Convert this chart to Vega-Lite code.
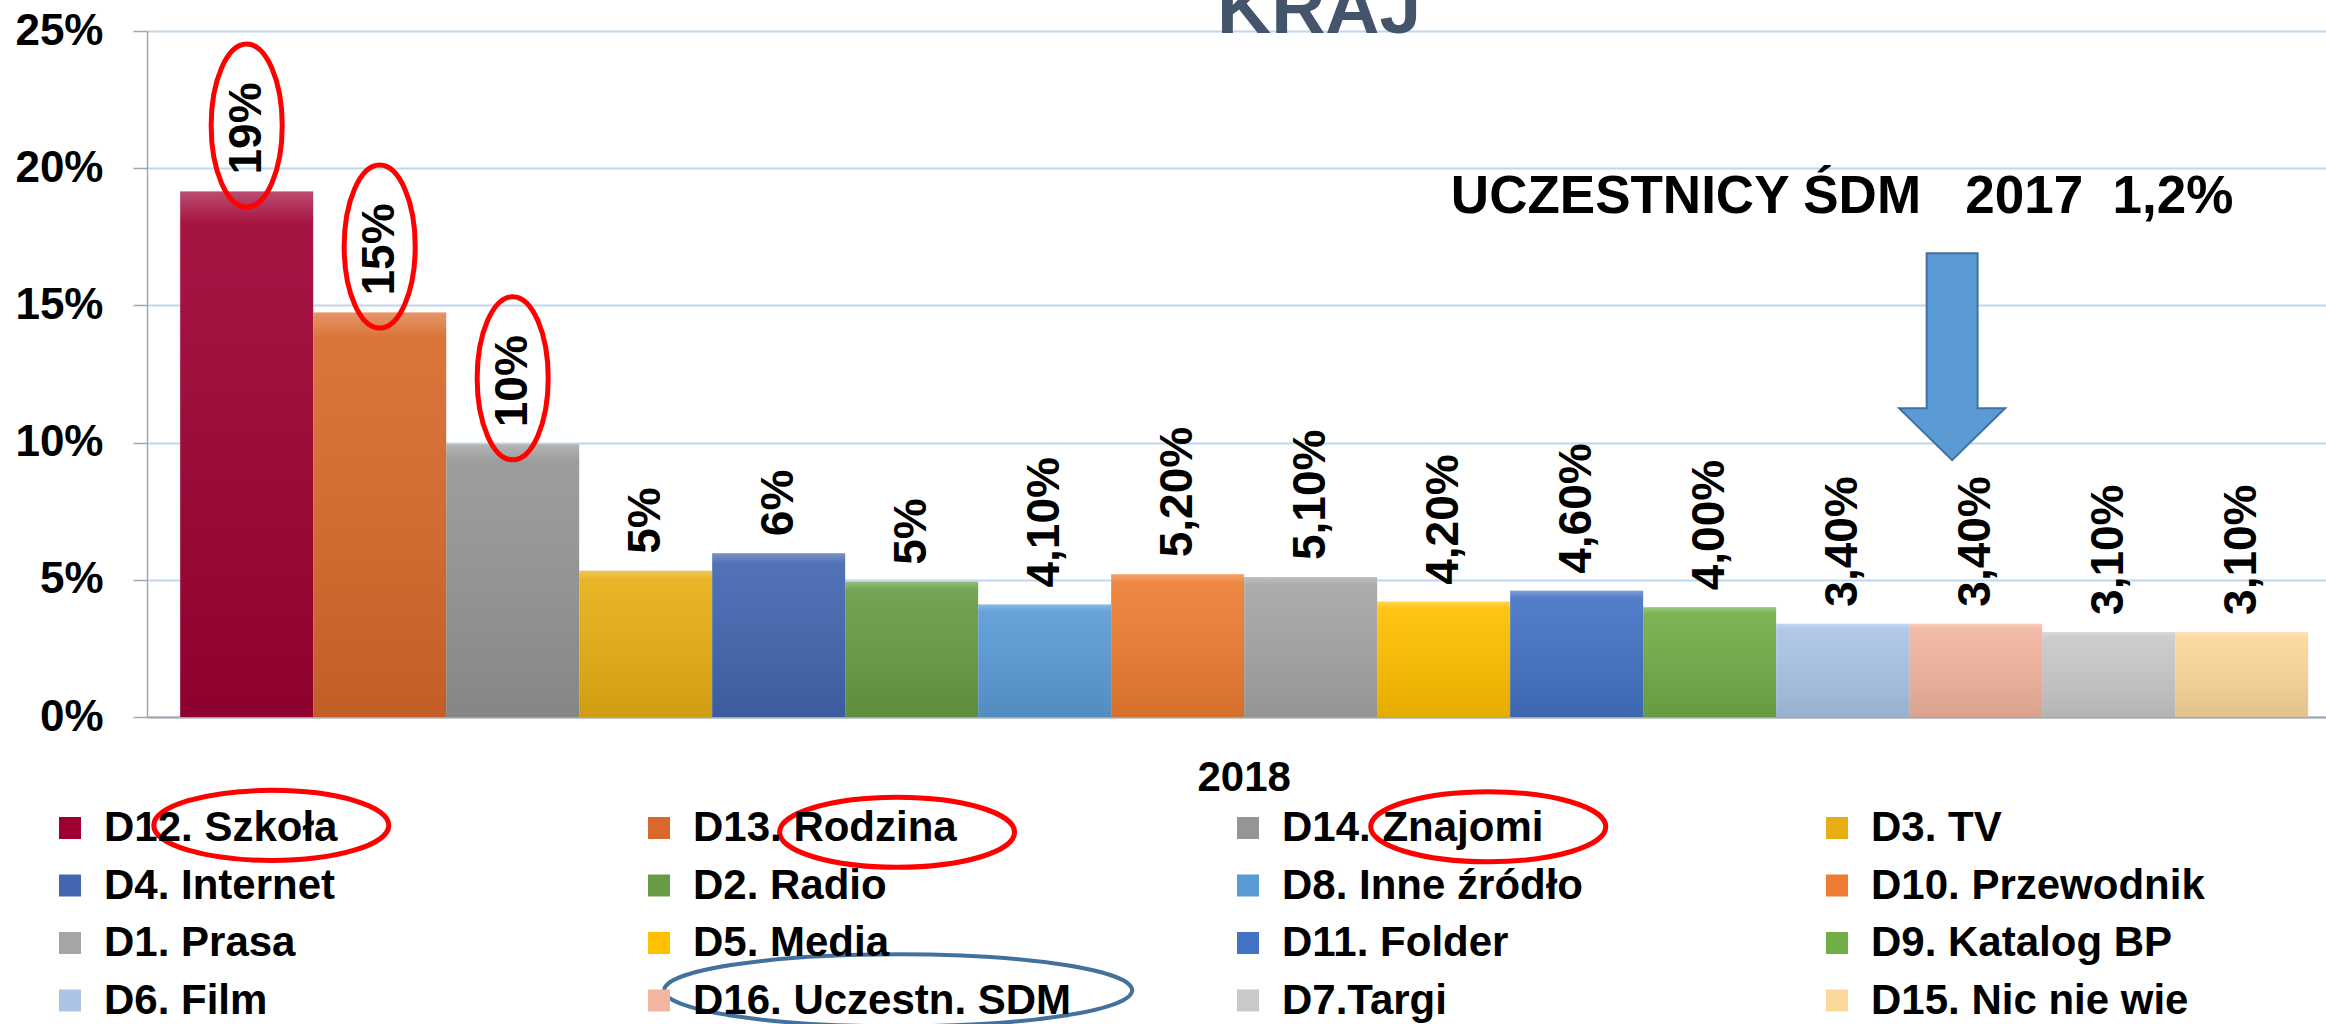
{
  "$schema": "https://vega.github.io/schema/vega-lite/v6.json",
  "width": 2179,
  "height": 686,
  "autosize": {"type": "none"},
  "padding": {"left": 147, "top": 31, "right": 0, "bottom": 307},
  "background": "white",
  "data": {"values": [
    {"year": "2018", "series": "D12. Szkoła", "value": 0.1915, "label": "19%", "highlight": true},
    {"year": "2018", "series": "D13. Rodzina", "value": 0.1474, "label": "15%", "highlight": true},
    {"year": "2018", "series": "D14. Znajomi", "value": 0.0994, "label": "10%", "highlight": true},
    {"year": "2018", "series": "D3. TV", "value": 0.0533, "label": "5%", "highlight": false},
    {"year": "2018", "series": "D4. Internet", "value": 0.0597, "label": "6%", "highlight": false},
    {"year": "2018", "series": "D2. Radio", "value": 0.0493, "label": "5%", "highlight": false},
    {"year": "2018", "series": "D8. Inne źródło", "value": 0.041, "label": "4,10%", "highlight": false},
    {"year": "2018", "series": "D10. Przewodnik", "value": 0.052, "label": "5,20%", "highlight": false},
    {"year": "2018", "series": "D1. Prasa", "value": 0.051, "label": "5,10%", "highlight": false},
    {"year": "2018", "series": "D5. Media", "value": 0.042, "label": "4,20%", "highlight": false},
    {"year": "2018", "series": "D11. Folder", "value": 0.046, "label": "4,60%", "highlight": false},
    {"year": "2018", "series": "D9. Katalog BP", "value": 0.040, "label": "4,00%", "highlight": false},
    {"year": "2018", "series": "D6. Film", "value": 0.034, "label": "3,40%", "highlight": false},
    {"year": "2018", "series": "D16. Uczestn. SDM", "value": 0.034, "label": "3,40%", "highlight": false},
    {"year": "2018", "series": "D7.Targi", "value": 0.031, "label": "3,10%", "highlight": false},
    {"year": "2018", "series": "D15. Nic nie wie", "value": 0.031, "label": "3,10%", "highlight": false}
  ]},
  "layer": [
    {
      "mark": {"type": "bar"},
      "encoding": {
        "x": {"field": "year", "type": "nominal", "scale": {"paddingInner": 0, "paddingOuter": 0.012, "align": 0.65},
          "axis": {"title": null, "labelAngle": 0, "labelFont": "Liberation Sans", "labelFontSize": 42, "labelFontWeight": "bold", "labelColor": "black", "ticks": false, "labelPadding": 40, "domainColor": "#a6a6a6", "domainWidth": 2}},
        "xOffset": {"field": "series", "type": "nominal", "sort": null,
          "scale": {"paddingInner": 0, "paddingOuter": 0, "domain": ["D12. Szkoła", "D13. Rodzina", "D14. Znajomi", "D3. TV", "D4. Internet", "D2. Radio", "D8. Inne źródło", "D10. Przewodnik", "D1. Prasa", "D5. Media", "D11. Folder", "D9. Katalog BP", "D6. Film", "D16. Uczestn. SDM", "D7.Targi", "D15. Nic nie wie"]}},
        "y": {"field": "value", "type": "quantitative", "scale": {"domain": [0, 0.25], "nice": false},
          "axis": {"title": null, "values": [0, 0.05, 0.1, 0.15, 0.2, 0.25], "format": ".0%", "labelFont": "Liberation Sans", "labelFontSize": 44, "labelFontWeight": "bold", "labelColor": "black", "labelPadding": 30, "tickSize": 14, "tickColor": "#a6a6a6", "tickWidth": 1.5, "domainColor": "#a6a6a6", "domainWidth": 1.5, "grid": true, "gridColor": "#bdd7ee", "gridWidth": 2}},
        "color": {"field": "series", "type": "nominal", "sort": null,
          "scale": {"domain": ["D12. Szkoła", "D13. Rodzina", "D14. Znajomi", "D3. TV", "D4. Internet", "D2. Radio", "D8. Inne źródło", "D10. Przewodnik", "D1. Prasa", "D5. Media", "D11. Folder", "D9. Katalog BP", "D6. Film", "D16. Uczestn. SDM", "D7.Targi", "D15. Nic nie wie"],
            "range": ["#9e0032", "#d8692a", "#959595", "#e8ae14", "#4266b0", "#679c45", "#5b9bd5", "#ed7d31", "#a5a5a5", "#ffc000", "#4472c4", "#70ad47", "#abc4e6", "#f2b5a0", "#c9c9c9", "#fcd89b"]},
          "legend": {"orient": "none", "legendX": -98, "legendY": 776, "columns": 4, "direction": "horizontal", "gridAlign": "all", "columnPadding": 155, "rowPadding": 15.5, "symbolType": "square", "symbolSize": 484, "symbolStrokeWidth": 0, "symbolOpacity": 1, "labelFont": "Liberation Sans", "labelFontSize": 42, "labelFontWeight": "bold", "labelColor": "black", "labelOffset": 13, "labelLimit": 1000, "title": null, "padding": 0}}
      }
    },
    {
      "mark": {"type": "bar", "fill": {"gradient": "linear", "x1": 0, "y1": 0, "x2": 0, "y2": 1, "stops": [{"offset": 0, "color": "rgba(255,255,255,0.30)"}, {"offset": 0.06, "color": "rgba(255,255,255,0.08)"}, {"offset": 1, "color": "rgba(0,0,0,0.10)"}]}},
      "encoding": {
        "x": {"field": "year", "type": "nominal"},
        "xOffset": {"field": "series", "type": "nominal", "sort": null},
        "y": {"field": "value", "type": "quantitative"}
      }
    },
    {
      "mark": {"type": "text", "angle": 270, "align": "left", "baseline": "middle", "dx": 17, "font": "Liberation Sans", "fontSize": 46, "fontWeight": "bold", "color": "black"},
      "encoding": {
        "x": {"field": "year", "type": "nominal"},
        "xOffset": {"field": "series", "type": "nominal", "sort": null},
        "y": {"field": "value", "type": "quantitative"},
        "text": {"field": "label"}
      }
    },
    {
      "transform": [{"filter": "datum.highlight"}],
      "mark": {"type": "point", "shape": "M0,-1C0.2408,-1 0.436,-0.5523 0.436,0C0.436,0.5523 0.2408,1 0,1C-0.2408,1 -0.436,0.5523 -0.436,0C-0.436,-0.5523 -0.2408,-1 0,-1Z", "size": 26569, "filled": false, "stroke": "#ff0000", "strokeWidth": 5, "opacity": 1, "yOffset": -66},
      "encoding": {
        "x": {"field": "year", "type": "nominal"},
        "xOffset": {"field": "series", "type": "nominal", "sort": null},
        "y": {"field": "value", "type": "quantitative"}
      }
    },
    {
      "data": {"values": [{}]},
      "mark": {"type": "text", "align": "center", "baseline": "alphabetic", "font": "Liberation Sans", "fontSize": 75, "fontWeight": "bold", "color": "#44546a", "text": "KRAJ"},
      "encoding": {
        "x": {"datum": "2018", "bandPosition": 0.5352},
        "y": {"datum": 0.2494}
      }
    },
    {
      "data": {"values": [{}]},
      "mark": {"type": "text", "align": "center", "baseline": "alphabetic", "font": "Liberation Sans", "fontSize": 53, "fontWeight": "bold", "color": "black", "text": "UCZESTNICY ŚDM\u00a0\u00a0\u00a02017\u00a0\u00a01,2%"},
      "encoding": {
        "x": {"datum": "2018", "bandPosition": 0.781},
        "y": {"datum": 0.1836}
      }
    },
    {
      "data": {"values": [{}]},
      "mark": {"type": "point", "shape": "M-0.246,-1L0.246,-1L0.246,0.498L0.512,0.498L0,1L-0.512,0.498L-0.246,0.498Z", "size": 42849, "filled": true, "color": "#5b9bd5", "stroke": "#41719c", "strokeWidth": 2, "opacity": 1},
      "encoding": {
        "x": {"datum": "2018", "bandPosition": 0.8327},
        "y": {"datum": 0.1313}
      }
    },
    {
      "data": {"values": [{}]},
      "mark": {"type": "point", "shape": "M-1,0C-1,-0.1646 -0.5523,-0.298 0,-0.298C0.5523,-0.298 1,-0.1646 1,0C1,0.1646 0.5523,0.298 0,0.298C-0.5523,0.298 -1,0.1646 -1,0Z", "size": 55225, "filled": false, "stroke": "#ff0000", "strokeWidth": 5, "opacity": 1},
      "encoding": {
        "x": {"datum": "2018", "bandPosition": 0.0428},
        "y": {"datum": -0.0395}
      }
    },
    {
      "data": {"values": [{}]},
      "mark": {"type": "point", "shape": "M-1,0C-1,-0.1646 -0.5523,-0.298 0,-0.298C0.5523,-0.298 1,-0.1646 1,0C1,0.1646 0.5523,0.298 0,0.298C-0.5523,0.298 -1,0.1646 -1,0Z", "size": 55225, "filled": false, "stroke": "#ff0000", "strokeWidth": 5, "opacity": 1},
      "encoding": {
        "x": {"datum": "2018", "bandPosition": 0.3369},
        "y": {"datum": -0.042}
      }
    },
    {
      "data": {"values": [{}]},
      "mark": {"type": "point", "shape": "M-1,0C-1,-0.1646 -0.5523,-0.298 0,-0.298C0.5523,-0.298 1,-0.1646 1,0C1,0.1646 0.5523,0.298 0,0.298C-0.5523,0.298 -1,0.1646 -1,0Z", "size": 55225, "filled": false, "stroke": "#ff0000", "strokeWidth": 5, "opacity": 1},
      "encoding": {
        "x": {"datum": "2018", "bandPosition": 0.6147},
        "y": {"datum": -0.040}
      }
    },
    {
      "data": {"values": [{}]},
      "mark": {"type": "point", "shape": "M-1,0C-1,-0.085 -0.5523,-0.154 0,-0.154C0.5523,-0.154 1,-0.085 1,0C1,0.085 0.5523,0.154 0,0.154C-0.5523,0.154 -1,0.085 -1,0Z", "size": 219024, "filled": false, "stroke": "#41719c", "strokeWidth": 4, "opacity": 1},
      "encoding": {
        "x": {"datum": "2018", "bandPosition": 0.3374},
        "y": {"datum": -0.0996}
      }
    }
  ]
}
